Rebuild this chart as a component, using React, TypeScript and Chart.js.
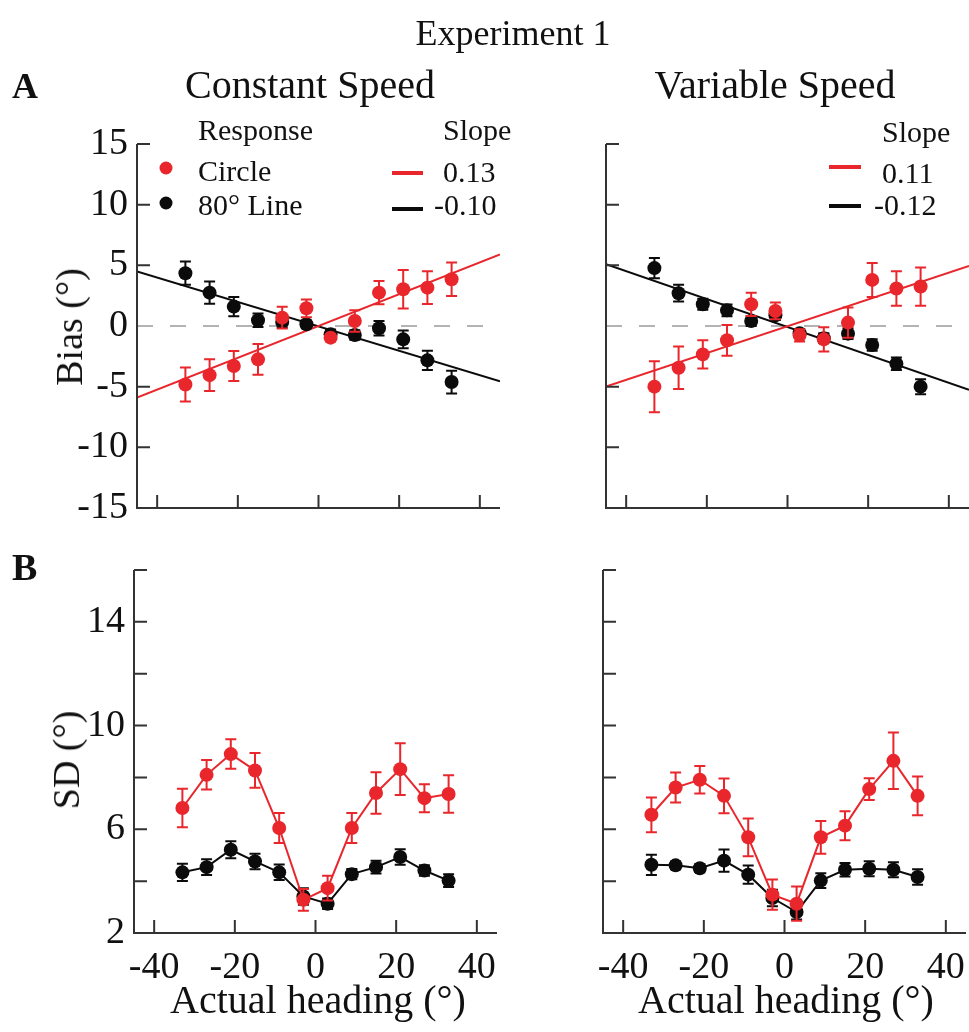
import React, { useEffect, useRef } from 'react';
import { Chart, registerables } from 'chart.js';
Chart.register(...registerables);

// ---------- data ----------
const headings = [-33, -27, -21, -15, -9, -3, 3, 9, 15, 21, 27, 33];
const fitX = [-45, 45];
const zeroLine = [0, 0];

// A: Bias, Constant Speed
const biasConstCircle = [-4.82, -4.05, -3.3, -2.75, 0.69, 1.46, -0.96, 0.41, 2.75, 3.03, 3.16, 3.85];
const biasConstCircleErr = [1.4, 1.3, 1.24, 1.27, 0.9, 0.73, 0.3, 0.88, 0.96, 1.58, 1.35, 1.38];
const biasConstLine = [4.35, 2.75, 1.6, 0.47, 0.33, 0.14, -0.69, -0.74, -0.19, -1.1, -2.83, -4.62];
const biasConstLineErr = [0.96, 0.92, 0.8, 0.55, 0.45, 0.3, 0.4, 0.4, 0.6, 0.73, 0.8, 0.94];
const fitConstCircle = [-5.9, 5.9];
const fitConstLine = [4.5, -4.55];

// A: Bias, Variable Speed
const biasVarCircle = [-5.0, -3.44, -2.34, -1.18, 1.79, 1.24, -0.77, -1.1, 0.28, 3.8, 3.09, 3.25];
const biasVarCircleErr = [2.1, 1.76, 1.16, 1.27, 0.96, 0.69, 0.5, 1.0, 1.24, 1.4, 1.42, 1.58];
const biasVarLine = [4.77, 2.7, 1.79, 1.29, 0.41, 0.88, -0.6, -1.0, -0.63, -1.57, -3.11, -5.0];
const biasVarLineErr = [0.83, 0.69, 0.45, 0.48, 0.41, 0.38, 0.35, 0.4, 0.45, 0.48, 0.52, 0.62];
const fitVarCircle = [-5.0, 4.95];
const fitVarLine = [5.1, -5.25];

// B: SD, Constant Speed
const sdConstCircle = [6.82, 8.1, 8.9, 8.27, 6.05, 3.28, 3.73, 6.05, 7.4, 8.32, 7.2, 7.36];
const sdConstCircleErr = [0.74, 0.57, 0.57, 0.67, 0.58, 0.42, 0.48, 0.58, 0.8, 1.0, 0.54, 0.72];
const sdConstLine = [4.34, 4.54, 5.21, 4.76, 4.34, 3.41, 3.13, 4.27, 4.54, 4.93, 4.41, 4.02];
const sdConstLineErr = [0.33, 0.3, 0.33, 0.3, 0.3, 0.32, 0.2, 0.2, 0.25, 0.3, 0.2, 0.25];

// B: SD, Variable Speed
const sdVarCircle = [6.56, 7.61, 7.91, 7.29, 5.69, 3.48, 3.13, 5.69, 6.14, 7.55, 8.64, 7.29];
const sdVarCircleErr = [0.67, 0.58, 0.53, 0.67, 0.73, 0.58, 0.66, 0.63, 0.56, 0.42, 1.09, 0.75];
const sdVarLine = [4.63, 4.61, 4.5, 4.79, 4.25, 3.35, 2.81, 4.02, 4.44, 4.48, 4.44, 4.16];
const sdVarLineErr = [0.39, 0.15, 0.15, 0.43, 0.35, 0.32, 0.29, 0.28, 0.26, 0.29, 0.29, 0.3];

// ticks
const headingTicks = [-40, -20, 0, 20, 40];
const biasTickMarks = [-10, -5, 5, 10, 15];
const biasTickLabels = [-15, -10, -5, 0, 5, 10, 15];
const sdTickMarks = [4, 6, 8, 10, 12, 14, 16];
const sdTickLabels = [2, 6, 10, 14];

// ---------- style ----------
const RED = '#e8262b';
const BLACK = '#0b0b0b';
const AXIS = '#333333';
const SERIF = '"Liberation Serif", "Times New Roman", serif';
const W = 969;
const H = 1032;

const pts = (xs: number[], ys: number[]) => xs.map((x, i) => ({ x, y: ys[i] }));

type LegendItem =
  | { kind: 'text'; text: string; x: number; y: number; size: number }
  | { kind: 'dot'; color: string; x: number; y: number; r: number }
  | { kind: 'bar'; color: string; x1: number; x2: number; y: number; h: number };

interface PanelSpec {
  datasets: any[];
  yMin: number;
  yMax: number;
  yMarks: number[];
  yLabels: number[];
  xLabels: boolean;
  pad: { left: number; top: number; right: number; bottom: number };
  legend: LegendItem[];
}

function makePlugin(spec: PanelSpec) {
  return {
    id: 'panelDeco',
    beforeDatasetDraw(chart: any, args: any) {
      const ds: any = chart.data.datasets[args.index];
      if (!ds.err) return;
      const meta = chart.getDatasetMeta(args.index);
      const ys = chart.scales.y;
      const ctx = chart.ctx;
      ctx.save();
      ctx.strokeStyle = ds.errColor;
      ctx.lineWidth = 2;
      ds.data.forEach((p: any, i: number) => {
        const el = meta.data[i];
        const x = el.x;
        const y1 = ys.getPixelForValue(p.y + ds.err[i]);
        const y2 = ys.getPixelForValue(p.y - ds.err[i]);
        ctx.beginPath();
        ctx.moveTo(x, y1);
        ctx.lineTo(x, y2);
        ctx.moveTo(x - 5.5, y1);
        ctx.lineTo(x + 5.5, y1);
        ctx.moveTo(x - 5.5, y2);
        ctx.lineTo(x + 5.5, y2);
        ctx.stroke();
      });
      ctx.restore();
    },
    afterDraw(chart: any) {
      const ctx = chart.ctx;
      const { left, right, top, bottom } = chart.chartArea;
      const xs = chart.scales.x;
      const ys = chart.scales.y;
      ctx.save();
      ctx.strokeStyle = AXIS;
      ctx.lineWidth = 2;
      ctx.beginPath();
      ctx.moveTo(left, top);
      ctx.lineTo(left, bottom);
      ctx.lineTo(right, bottom);
      spec.yMarks.forEach((v) => {
        const y = ys.getPixelForValue(v);
        ctx.moveTo(left, y);
        ctx.lineTo(left + 13, y);
      });
      headingTicks.forEach((v) => {
        const x = xs.getPixelForValue(v);
        ctx.moveTo(x, bottom);
        ctx.lineTo(x, bottom - 13);
      });
      ctx.stroke();

      ctx.fillStyle = '#111';
      ctx.font = `38px ${SERIF}`;
      ctx.textAlign = 'right';
      ctx.textBaseline = 'middle';
      spec.yLabels.forEach((v) => {
        ctx.fillText(String(v), left - 9, ys.getPixelForValue(v));
      });
      if (spec.xLabels) {
        ctx.textAlign = 'center';
        ctx.textBaseline = 'alphabetic';
        headingTicks.forEach((v) => {
          ctx.fillText(String(v), xs.getPixelForValue(v), bottom + 45);
        });
      }
      // legend
      spec.legend.forEach((it) => {
        if (it.kind === 'text') {
          ctx.font = `${it.size}px ${SERIF}`;
          ctx.textAlign = 'left';
          ctx.textBaseline = 'alphabetic';
          ctx.fillStyle = '#111';
          ctx.fillText(it.text, it.x, it.y);
        } else if (it.kind === 'dot') {
          ctx.fillStyle = it.color;
          ctx.beginPath();
          ctx.arc(it.x, it.y, it.r, 0, Math.PI * 2);
          ctx.fill();
        } else {
          ctx.fillStyle = it.color;
          ctx.fillRect(it.x1, it.y - it.h / 2, it.x2 - it.x1, it.h);
        }
      });
      ctx.restore();
    },
  };
}

function pointSet(xs: number[], ys: number[], err: number[], color: string, order: number, showLine: boolean) {
  return {
    data: pts(xs, ys),
    err,
    errColor: color,
    showLine,
    borderColor: color,
    borderWidth: 2,
    backgroundColor: color,
    pointBackgroundColor: color,
    pointBorderWidth: 0,
    pointRadius: 7,
    order,
  };
}

function fitSet(ys: number[], color: string, order: number) {
  return {
    data: pts(fitX, ys),
    showLine: true,
    borderColor: color,
    borderWidth: 2,
    pointRadius: 0,
    order,
  };
}

function zeroSet() {
  return {
    data: pts(fitX, zeroLine),
    showLine: true,
    borderColor: '#b3b3b3',
    borderWidth: 2,
    borderDash: [16, 17],
    pointRadius: 0,
    order: 10,
  };
}

function Panel({ spec }: { spec: PanelSpec }) {
  const ref = useRef<HTMLCanvasElement>(null);
  useEffect(() => {
    if (!ref.current) return;
    const chart = new Chart(ref.current, {
      type: 'scatter',
      data: { datasets: spec.datasets },
      options: {
        responsive: false,
        devicePixelRatio: 1,
        animation: false,
        events: [],
        layout: { padding: spec.pad, autoPadding: false } as any,
        plugins: { legend: { display: false }, tooltip: { enabled: false } },
        scales: {
          x: { type: 'linear', min: -45, max: 45, display: false },
          y: { type: 'linear', min: spec.yMin, max: spec.yMax, display: false },
        },
      },
      plugins: [makePlugin(spec) as any],
    });
    return () => chart.destroy();
  }, []);
  return (
    <canvas
      ref={ref}
      width={W}
      height={H}
      style={{ position: 'absolute', left: 0, top: 0, width: W, height: H }}
    />
  );
}

const panelTL: PanelSpec = {
  datasets: [
    zeroSet(),
    fitSet(fitConstLine, BLACK, 3),
    fitSet(fitConstCircle, RED, 2),
    pointSet(headings, biasConstLine, biasConstLineErr, BLACK, 1, false),
    pointSet(headings, biasConstCircle, biasConstCircleErr, RED, 0, false),
  ],
  yMin: -15,
  yMax: 15,
  yMarks: biasTickMarks,
  yLabels: biasTickLabels,
  xLabels: false,
  pad: { left: 137, top: 144, right: W - 500, bottom: H - 508 },
  legend: [
    { kind: 'text', text: 'Response', x: 198, y: 140, size: 30 },
    { kind: 'dot', color: RED, x: 166, y: 168, r: 6.5 },
    { kind: 'text', text: 'Circle', x: 198, y: 181, size: 30 },
    { kind: 'dot', color: BLACK, x: 166, y: 203, r: 6.5 },
    { kind: 'text', text: '80° Line', x: 198, y: 215, size: 30 },
    { kind: 'text', text: 'Slope', x: 443, y: 140, size: 30 },
    { kind: 'bar', color: RED, x1: 392, x2: 423, y: 173, h: 4 },
    { kind: 'text', text: '0.13', x: 443, y: 182, size: 30 },
    { kind: 'bar', color: BLACK, x1: 392, x2: 423, y: 209, h: 4 },
    { kind: 'text', text: '-0.10', x: 434, y: 215, size: 30 },
  ],
};

const panelTR: PanelSpec = {
  datasets: [
    zeroSet(),
    fitSet(fitVarLine, BLACK, 3),
    fitSet(fitVarCircle, RED, 2),
    pointSet(headings, biasVarLine, biasVarLineErr, BLACK, 1, false),
    pointSet(headings, biasVarCircle, biasVarCircleErr, RED, 0, false),
  ],
  yMin: -15,
  yMax: 15,
  yMarks: biasTickMarks,
  yLabels: [],
  xLabels: false,
  pad: { left: 606, top: 144, right: 0, bottom: H - 508 },
  legend: [
    { kind: 'text', text: 'Slope', x: 882, y: 142, size: 30 },
    { kind: 'bar', color: RED, x1: 829, x2: 861, y: 167, h: 4 },
    { kind: 'text', text: '0.11', x: 882, y: 183, size: 30 },
    { kind: 'bar', color: BLACK, x1: 829, x2: 861, y: 206, h: 4 },
    { kind: 'text', text: '-0.12', x: 874, y: 215, size: 30 },
  ],
};

const panelBL: PanelSpec = {
  datasets: [
    pointSet(headings, sdConstLine, sdConstLineErr, BLACK, 1, true),
    pointSet(headings, sdConstCircle, sdConstCircleErr, RED, 0, true),
  ],
  yMin: 2,
  yMax: 16,
  yMarks: sdTickMarks,
  yLabels: sdTickLabels,
  xLabels: true,
  pad: { left: 134, top: 570, right: W - 497, bottom: H - 933 },
  legend: [],
};

const panelBR: PanelSpec = {
  datasets: [
    pointSet(headings, sdVarLine, sdVarLineErr, BLACK, 1, true),
    pointSet(headings, sdVarCircle, sdVarCircleErr, RED, 0, true),
  ],
  yMin: 2,
  yMax: 16,
  yMarks: sdTickMarks,
  yLabels: [],
  xLabels: true,
  pad: { left: 603, top: 570, right: W - 966, bottom: H - 933 },
  legend: [],
};

function Label({
  text, x, base, size, bold = false, center = false,
}: { text: string; x: number; base: number; size: number; bold?: boolean; center?: boolean }) {
  const top = base - 0.8375 * size;
  const style: React.CSSProperties = {
    position: 'absolute',
    top,
    fontFamily: SERIF,
    fontSize: size,
    lineHeight: 1,
    fontWeight: bold ? 'bold' : 'normal',
    whiteSpace: 'nowrap',
    color: '#111',
  };
  if (center) {
    style.left = x - 300;
    style.width = 600;
    style.textAlign = 'center';
  } else {
    style.left = x;
  }
  return <div style={style}>{text}</div>;
}

function VLabel({ text, cx, cy, size }: { text: string; cx: number; cy: number; size: number }) {
  return (
    <div
      style={{
        position: 'absolute',
        left: cx,
        top: cy,
        transform: 'translate(-50%, -50%) rotate(-90deg)',
        fontFamily: SERIF,
        fontSize: size,
        lineHeight: 1,
        whiteSpace: 'nowrap',
        color: '#111',
      }}
    >
      {text}
    </div>
  );
}

export default function App() {
  return (
    <div
      style={{
        position: 'absolute',
        left: 0,
        top: 0,
        width: W,
        height: H,
        overflow: 'hidden',
        background: '#ffffff',
      }}
    >
      <Panel spec={panelTL} />
      <Panel spec={panelTR} />
      <Panel spec={panelBL} />
      <Panel spec={panelBR} />
      <Label text="Experiment 1" x={513} base={45} size={36} center />
      <Label text="A" x={12} base={98} size={36} bold />
      <Label text="Constant Speed" x={310} base={98} size={40} center />
      <Label text="Variable Speed" x={775} base={98} size={40} center />
      <Label text="B" x={12} base={580} size={38} bold />
      <VLabel text="Bias (°)" cx={69} cy={327} size={38} />
      <VLabel text="SD (°)" cx={66} cy={760} size={38} />
      <Label text="Actual heading (°)" x={318} base={1013} size={40} center />
      <Label text="Actual heading (°)" x={786} base={1013} size={40} center />
    </div>
  );
}
